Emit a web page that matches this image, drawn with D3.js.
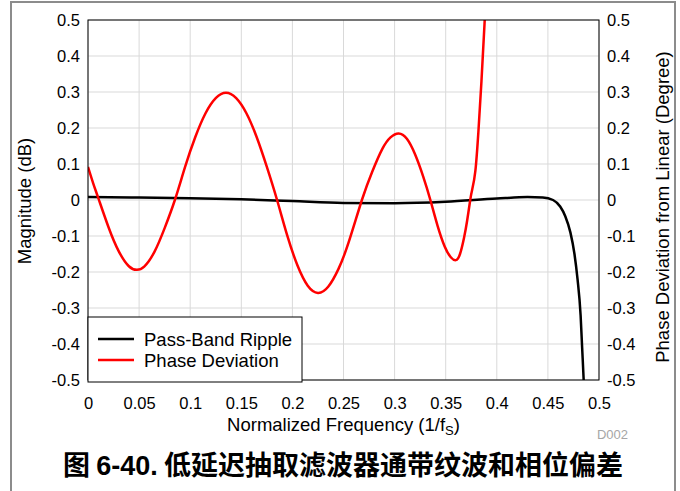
<!DOCTYPE html>
<html><head><meta charset="utf-8">
<script src="https://cdn.jsdelivr.net/npm/d3@7"></script>
<style>body{margin:0;background:#fff}svg{display:block}</style>
</head><body>
<svg id="c" width="680" height="491"></svg>
<script>
const xTicks = [0,0.05,0.1,0.15,0.2,0.25,0.3,0.35,0.4,0.45,0.5];
const yTicks = [-0.5,-0.4,-0.3,-0.2,-0.1,0,0.1,0.2,0.3,0.4,0.5];
const yTickLabels = ["-0.5","-0.4","-0.3","-0.2","-0.1","0","0.1","0.2","0.3","0.4","0.5"];
const xTickLabels = ["0","0.05","0.1","0.15","0.2","0.25","0.3","0.35","0.4","0.45","0.5"];

// Pass-band ripple (dB)
const rippleF = [0,0.05,0.1,0.15,0.2,0.25,0.3,0.35,0.4,0.43,0.445,0.455,0.462,0.467,0.472,0.476,0.479,0.482,0.4835,0.485,0.4858];
const rippleV = [0.008,0.007,0.005,0.002,-0.003,-0.008,-0.009,-0.005,0.004,0.008,0.007,0.0,-0.018,-0.045,-0.09,-0.15,-0.22,-0.32,-0.41,-0.5,-0.56];

// Phase deviation (degree)
const phaseF = [0,0.005,0.01,0.02,0.03,0.04,0.0477,0.055,0.065,0.075,0.085,0.095,0.105,0.115,0.125,0.135,0.145,0.155,0.165,0.175,0.185,0.195,0.205,0.215,0.225,0.235,0.245,0.255,0.268,0.278,0.288,0.296,0.304,0.312,0.32,0.328,0.335,0.342,0.349,0.355,0.36,0.364,0.368,0.371,0.374,0.376,0.379,0.382,0.385,0.388,0.391];
const phaseV = [0.092,0.047,0.006,-0.075,-0.142,-0.184,-0.194,-0.185,-0.144,-0.078,0.0,0.092,0.175,0.241,0.283,0.298,0.283,0.241,0.175,0.092,0.0,-0.099,-0.182,-0.238,-0.258,-0.241,-0.192,-0.118,0.0,0.078,0.142,0.174,0.185,0.170,0.127,0.065,0.0,-0.071,-0.129,-0.159,-0.167,-0.15,-0.104,-0.057,0.0,0.03,0.08,0.19,0.33,0.49,0.66];

const seriesNames = ["Pass-Band Ripple","Phase Deviation"];
const seriesColors = ["#000000","#ff0000"];

const svg = d3.select("#c");
const L=88, R=599, T=20, B=380;
const x = d3.scaleLinear().domain([0,0.5]).range([L,R]);
const y = d3.scaleLinear().domain([-0.5,0.5]).range([B,T]);
const y2 = d3.scaleLinear().domain([-0.5,0.5]).range([B,T]);
const font = "Liberation Sans, Arial, Helvetica, sans-serif";

// outer frame
svg.append("path").attr("d","M11,491V2H675V491").attr("fill","none").attr("stroke","#8c8c8c").attr("stroke-width",2);

// grid
svg.append("g").selectAll("line").data(xTicks).join("line")
  .attr("x1",d=>x(d)).attr("x2",d=>x(d)).attr("y1",T).attr("y2",B)
  .attr("stroke","#d9d9d9").attr("stroke-width",1);
svg.append("g").selectAll("line").data(yTicks).join("line")
  .attr("x1",L).attr("x2",R).attr("y1",d=>y(d)).attr("y2",d=>y(d))
  .attr("stroke","#d9d9d9").attr("stroke-width",1);

// axes
const ax = svg.append("g").attr("transform",`translate(0,${B})`)
  .call(d3.axisBottom(x).tickValues(xTicks).tickFormat((d,i)=>xTickLabels[i]).tickSize(0).tickPadding(17));
const ayl = svg.append("g").attr("transform",`translate(${L},0)`)
  .call(d3.axisLeft(y).tickValues(yTicks).tickFormat((d,i)=>yTickLabels[i]).tickSize(0).tickPadding(8));
const ayr = svg.append("g").attr("transform",`translate(${R},0)`)
  .call(d3.axisRight(y2).tickValues(yTicks).tickFormat((d,i)=>yTickLabels[i]).tickSize(0).tickPadding(8));
[ax,ayl,ayr].forEach(g=>{
  g.select(".domain").remove();
  g.selectAll("text").attr("font-family",font).attr("font-size",16.5).attr("fill","#000");
});

// clip
svg.append("clipPath").attr("id","clip").append("rect").attr("x",L).attr("y",T).attr("width",R-L).attr("height",B-T);

const g = svg.append("g").attr("clip-path","url(#clip)");
g.append("path").attr("d",d3.line().curve(d3.curveMonotoneX)(rippleF.map((f,i)=>[x(f),y(rippleV[i])])))
  .attr("fill","none").attr("stroke",seriesColors[0]).attr("stroke-width",2.5);
g.append("path").attr("d",d3.line().curve(d3.curveNatural)(phaseF.map((f,i)=>[x(f),y2(phaseV[i])])))
  .attr("fill","none").attr("stroke",seriesColors[1]).attr("stroke-width",2.5);

// plot border
svg.append("rect").attr("x",L).attr("y",T).attr("width",R-L).attr("height",B-T)
  .attr("fill","none").attr("stroke","#000").attr("stroke-width",1);

// axis titles
svg.append("text").attr("x",(L+R)/2).attr("y",431).attr("text-anchor","middle")
  .attr("font-family",font).attr("font-size",18.5)
  .html('Normalized Frequency (1/f<tspan font-size="13" dy="4">S</tspan><tspan dy="-4">)</tspan>');
svg.append("text").attr("transform","translate(31,201) rotate(-90)").attr("text-anchor","middle")
  .attr("font-family",font).attr("font-size",18.5).text("Magnitude (dB)");
svg.append("text").attr("transform","translate(669,207) rotate(-90)").attr("text-anchor","middle")
  .attr("font-family",font).attr("font-size",18.5).text("Phase Deviation from Linear (Degree)");

// D002
svg.append("text").attr("x",628).attr("y",439).attr("text-anchor","end")
  .attr("font-family",font).attr("font-size",13).attr("fill","#a6a6a6").text("D002");

// legend
const lg = svg.append("g");
lg.append("rect").attr("x",88).attr("y",317).attr("width",214).attr("height",65)
  .attr("fill","#fff").attr("stroke","#000").attr("stroke-width",1);
seriesNames.forEach((n,i)=>{
  const yy = 339 + i*21;
  lg.append("line").attr("x1",98).attr("x2",134).attr("y1",yy).attr("y2",yy)
    .attr("stroke",seriesColors[i]).attr("stroke-width",2.5);
  lg.append("text").attr("x",144).attr("y",yy+6.5).attr("font-family",font).attr("font-size",18.5).text(n);
});

// caption
svg.append("text").attr("x",343).attr("y",475).attr("text-anchor","middle")
  .attr("font-family","Noto Sans CJK SC, sans-serif").attr("font-size",27).attr("font-weight","bold")
  .html('图 <tspan font-family="Liberation Sans, Arial, sans-serif">6-40.</tspan> 低延迟抽取滤波器通带纹波和相位偏差');
</script>
</body></html>
